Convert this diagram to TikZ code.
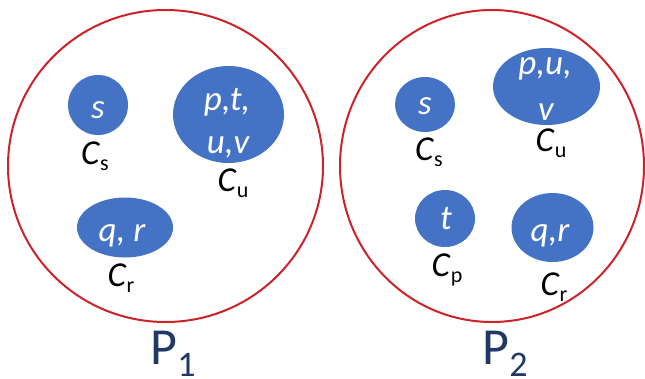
\documentclass[tikz,border=0pt]{standalone}
\usepackage{fontspec}
\setmainfont{Carlito}
\usetikzlibrary{shapes.geometric}
\definecolor{blobblue}{HTML}{4472C4}
\definecolor{ringred}{HTML}{CC2229}
\definecolor{navy}{HTML}{203864}
\tikzset{
  ring/.style={draw=ringred, line width=2pt},
  blob/.style={ellipse, fill=blobblue, draw=none, inner sep=0pt},
  blobtext/.style={anchor=base, text=white, inner sep=0pt, font=\fontsize{35}{35}\selectfont\itshape},
  clabel/.style={anchor=base, text=black, inner sep=0pt, font=\fontsize{35}{35}\selectfont},
  plabel/.style={anchor=base, text=navy, inner sep=0pt, font=\fontsize{52}{52}\selectfont}
}
\newcommand{\clab}[1]{\textit{C}\raisebox{-6pt}{\fontsize{22}{22}\selectfont #1}}
\newcommand{\plab}[1]{P\raisebox{-12pt}{\fontsize{36}{36}\selectfont #1}}
\begin{document}
\begin{tikzpicture}[x=1pt,y=-1pt]
\useasboundingbox (0,0) rectangle (645,378);
% partitions
\node[ellipse, ring, minimum width=315pt, minimum height=312pt, inner sep=0pt] (P1c) at (165.5,166) {};
\node[ellipse, ring, minimum width=304pt, minimum height=312pt, inner sep=0pt] (P2c) at (492,166) {};
% P1 blobs
\node[blob, minimum width=60pt, minimum height=60pt] (b1s) at (98,105) {};
\node[blob, minimum width=111pt, minimum height=97pt] (b1u) at (228.5,114.5) {};
\node[blob, minimum width=96pt, minimum height=60pt] (b1r) at (125,227.5) {};
\node[blobtext] (t1s) at (98,118) {s};
\node[blobtext] (t1u1) at (227,110) {p,t,};
\node[blobtext] (t1u2) at (228,153) {u,v};
\node[blobtext] (t1r) at (122,241) {q, r};
\node[clabel] (l1s) at (95,164) {\clab{s}};
\node[clabel] (l1u) at (233,191) {\clab{u}};
\node[clabel] (l1r) at (121,286) {\clab{r}};
% P2 blobs
\node[blob, minimum width=60pt, minimum height=55pt] (b2s) at (425,104.5) {};
\node[blob, minimum width=107pt, minimum height=77pt] (b2u) at (546.5,86.5) {};
\node[blob, minimum width=60pt, minimum height=57pt] (b2p) at (445,218.5) {};
\node[blob, minimum width=82pt, minimum height=69pt] (b2r) at (552.5,227.5) {};
\node[blobtext] (t2s) at (425,114) {s};
\node[blobtext] (t2u1) at (545,74) {p,u,};
\node[blobtext] (t2u2) at (546,120) {v};
\node[blobtext] (t2p) at (446,229) {t};
\node[blobtext] (t2r) at (550,241) {q,r};
\node[clabel] (l2s) at (429,160) {\clab{s}};
\node[clabel] (l2u) at (551,151) {\clab{u}};
\node[clabel] (l2p) at (447,276) {\clab{p}};
\node[clabel] (l2r) at (554,295) {\clab{r}};
% partition names
\node[plabel] (n1) at (173,364) {\plab{1}};
\node[plabel] (n2) at (505,364) {\plab{2}};
\end{tikzpicture}
\end{document}
